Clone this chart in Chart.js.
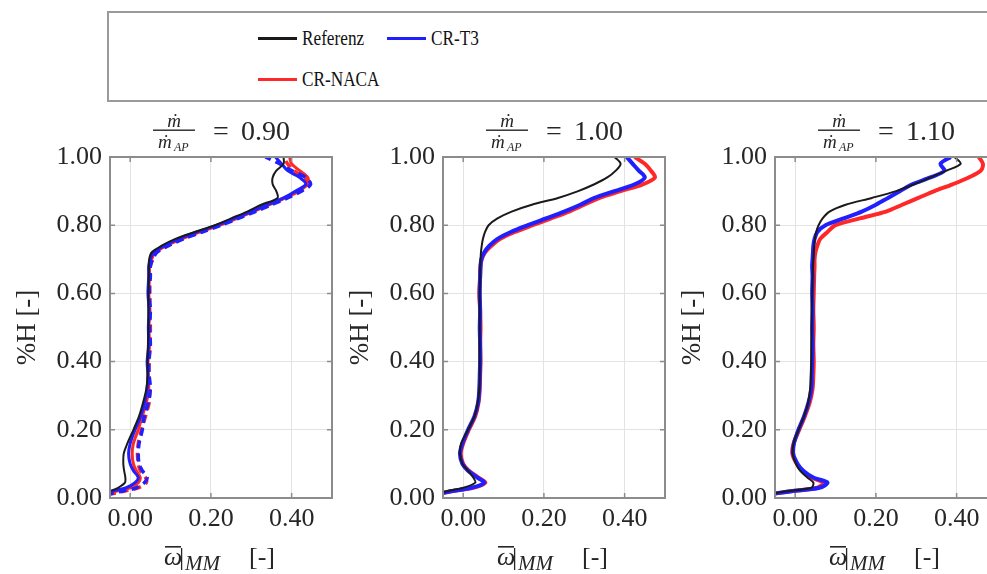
<!DOCTYPE html>
<html>
<head>
<meta charset="utf-8">
<script src="https://cdn.jsdelivr.net/npm/chart.js@4.4.1/dist/chart.umd.min.js"></script>
<style>
  html, body { margin: 0; padding: 0; background: #fff; overflow: hidden; }
  #wrap { position: relative; width: 987px; height: 574px; overflow: hidden; }
  #legend { position: absolute; left: 107px; top: 11px; width: 1000px; height: 87px;
            border: 2px solid #9a9a9a; }
  .item { position: absolute; display: flex; align-items: center; height: 30px; }
  .item .ln { width: 39px; height: 3px; margin-right: 5px; }
  .item .tx { font: 21px "Liberation Serif", "DejaVu Serif", serif; color: #111;
              display: inline-block; transform: scaleX(0.82); transform-origin: left center;
              white-space: nowrap; }
  canvas { position: absolute; top: 110px; }
</style>
</head>
<body>
<div id="wrap">
  <div id="legend"></div>
  <canvas id="c0" width="336" height="464" style="left:0px"></canvas>
  <canvas id="c1" width="336" height="464" style="left:333px"></canvas>
  <canvas id="c2" width="336" height="464" style="left:665px"></canvas>
</div>
<script>
// relative channel height, shared by all profiles
var H = [0.01, 0.02, 0.03, 0.045, 0.06, 0.08, 0.10, 0.13, 0.16, 0.20, 0.24, 0.28, 0.32, 0.36,
         0.40, 0.45, 0.50, 0.55, 0.60, 0.65, 0.68, 0.70, 0.72, 0.74, 0.76, 0.78, 0.80, 0.82,
         0.84, 0.86, 0.88, 0.90, 0.92, 0.94, 0.96, 0.98, 1.00];

var seriesNames = ['Referenz', 'CR-T3', 'CR-NACA'];
var seriesColors = ['#1a1a1a', '#2020ff', '#ff2828'];
var ratios = ['0.90', '1.00', '1.10'];
var xTicks = [0, 0.2, 0.4];
var yTicks = [0, 0.2, 0.4, 0.6, 0.8, 1.0];

// m/m_AP = 0.90
var ref090  = [-0.07, -0.05, -0.03, -0.013, -0.012, -0.015, -0.017, -0.016, -0.007, 0.008, 0.022, 0.032, 0.040, 0.043,
               0.043, 0.044, 0.045, 0.045, 0.045, 0.046, 0.046, 0.047, 0.053, 0.078, 0.112, 0.160, 0.210, 0.250,
               0.290, 0.325, 0.365, 0.362, 0.353, 0.353, 0.362, 0.380, 0.380];
var t3_090  = [-0.07, -0.045, -0.01, 0.012, 0.020, 0.008, 0.000, -0.004, 0.000, 0.012, 0.026, 0.036, 0.042, 0.044,
               0.042, 0.046, 0.045, 0.047, 0.044, 0.046, 0.046, 0.050, 0.058, 0.085, 0.120, 0.165, 0.215, 0.258,
               0.300, 0.340, 0.380, 0.410, 0.435, 0.420, 0.390, 0.375, 0.360];
var t3b_090 = [-0.06, -0.02, 0.015, 0.035, 0.042, 0.030, 0.022, 0.020, 0.022, 0.030, 0.035, 0.045, 0.050, 0.047,
               0.046, 0.050, 0.048, 0.050, 0.047, 0.050, 0.050, 0.056, 0.066, 0.095, 0.132, 0.178, 0.225, 0.268,
               0.310, 0.350, 0.390, 0.425, 0.447, 0.435, 0.400, 0.370, 0.335];
var na_090  = [-0.065, -0.035, 0.000, 0.020, 0.025, 0.015, 0.008, 0.005, 0.008, 0.020, 0.030, 0.040, 0.046, 0.045,
               0.044, 0.048, 0.046, 0.049, 0.046, 0.048, 0.048, 0.053, 0.062, 0.090, 0.128, 0.172, 0.222, 0.265,
               0.305, 0.345, 0.385, 0.418, 0.440, 0.440, 0.420, 0.400, 0.395];
var nab_090 = [-0.055, -0.015, 0.020, 0.040, 0.038, 0.025, 0.020, 0.018, 0.020, 0.028, 0.038, 0.047, 0.048, 0.046,
               0.047, 0.049, 0.050, 0.048, 0.049, 0.047, 0.050, 0.055, 0.064, 0.092, 0.130, 0.175, 0.220, 0.262,
               0.302, 0.342, 0.382, 0.420, 0.440, 0.430, 0.405, 0.390, 0.380];

// m/m_AP = 1.00
var ref100 = [-0.07, -0.04, 0.000, 0.030, 0.025, 0.012, -0.002, -0.008, -0.005, 0.012, 0.028, 0.036, 0.040, 0.041,
              0.041, 0.041, 0.041, 0.041, 0.041, 0.042, 0.042, 0.043, 0.044, 0.046, 0.049, 0.054, 0.063, 0.085,
              0.120, 0.170, 0.235, 0.285, 0.325, 0.357, 0.378, 0.390, 0.375];
var t3_100 = [-0.07, -0.03, 0.020, 0.052, 0.035, 0.012, -0.002, -0.008, -0.002, 0.012, 0.028, 0.037, 0.040, 0.041,
              0.042, 0.042, 0.041, 0.042, 0.041, 0.042, 0.043, 0.045, 0.052, 0.065, 0.085, 0.118, 0.160, 0.205,
              0.250, 0.290, 0.325, 0.375, 0.425, 0.450, 0.435, 0.420, 0.405];
var na_100 = [-0.07, -0.03, 0.025, 0.055, 0.038, 0.014, 0.000, -0.006, 0.000, 0.014, 0.030, 0.038, 0.041, 0.042,
              0.043, 0.042, 0.043, 0.042, 0.040, 0.042, 0.043, 0.046, 0.054, 0.070, 0.092, 0.128, 0.172, 0.218,
              0.262, 0.300, 0.338, 0.390, 0.445, 0.475, 0.465, 0.450, 0.425];

// m/m_AP = 1.10
var ref110 = [-0.07, -0.02, 0.040, 0.045, 0.030, 0.012, 0.002, -0.006, -0.004, 0.008, 0.022, 0.032, 0.037, 0.039,
              0.040, 0.040, 0.041, 0.041, 0.042, 0.043, 0.044, 0.045, 0.046, 0.047, 0.049, 0.052, 0.058, 0.068,
              0.085, 0.125, 0.190, 0.250, 0.295, 0.335, 0.375, 0.410, 0.395];
var t3_110 = [-0.07, -0.01, 0.060, 0.080, 0.045, 0.020, 0.006, -0.005, -0.003, 0.008, 0.022, 0.033, 0.040, 0.041,
              0.042, 0.043, 0.042, 0.043, 0.042, 0.043, 0.042, 0.043, 0.044, 0.045, 0.048, 0.055, 0.075, 0.120,
              0.165, 0.200, 0.230, 0.260, 0.290, 0.335, 0.370, 0.360, 0.385];
var na_110 = [-0.07, -0.01, 0.055, 0.070, 0.040, 0.018, 0.004, -0.007, -0.004, 0.010, 0.024, 0.036, 0.043, 0.045,
              0.046, 0.045, 0.046, 0.045, 0.046, 0.047, 0.048, 0.048, 0.050, 0.055, 0.062, 0.080, 0.100, 0.160,
              0.225, 0.265, 0.305, 0.345, 0.390, 0.430, 0.460, 0.465, 0.455];

var SERIF = '"Liberation Serif", "DejaVu Serif", serif';
var TXT = '#262626';
var AXIS = '#8c8c8c';

// legend
var leg = document.getElementById('legend');
seriesNames.forEach(function (name, i) {
  var d = document.createElement('div');
  d.className = 'item';
  d.style.left = (149 + (i % 2) * 129) + 'px';
  d.style.top = (10 + Math.floor(i / 2) * 41) + 'px';
  d.innerHTML = '<span class="ln" style="background:' + seriesColors[i] + '"></span><span class="tx">' + name + '</span>';
  leg.appendChild(d);
});

function pts(arr) {
  return arr.map(function (v, i) { return { x: v, y: H[i] }; });
}

function line(arr, color, width, dash) {
  return {
    data: pts(arr), showLine: true, borderColor: color, backgroundColor: color,
    borderWidth: width, borderDash: dash || [], pointRadius: 0, tension: 0.3
  };
}

// box round the plot with inward ticks
var frame = {
  id: 'frame',
  afterDraw: function (chart) {
    var a = chart.chartArea, ctx = chart.ctx;
    var sx = chart.scales.x, sy = chart.scales.y;
    ctx.save();
    ctx.strokeStyle = AXIS;
    ctx.lineWidth = 2;
    ctx.strokeRect(a.left, a.top, a.right - a.left, a.bottom - a.top);
    ctx.lineWidth = 1.5;
    ctx.beginPath();
    xTicks.forEach(function (v) {
      var px = sx.getPixelForValue(v);
      ctx.moveTo(px, a.bottom); ctx.lineTo(px, a.bottom - 5);
      ctx.moveTo(px, a.top); ctx.lineTo(px, a.top + 5);
    });
    yTicks.forEach(function (v) {
      var py = sy.getPixelForValue(v);
      ctx.moveTo(a.left, py); ctx.lineTo(a.left + 5, py);
      ctx.moveTo(a.right, py); ctx.lineTo(a.right - 5, py);
    });
    ctx.stroke();
    ctx.restore();
  }
};

// m-dot fraction title and omega x label
var labels = {
  id: 'labels',
  afterDraw: function (chart, args, opts) {
    var a = chart.chartArea, ctx = chart.ctx;
    var cx = (a.left + a.right) / 2;
    ctx.save();
    ctx.fillStyle = TXT;
    ctx.textBaseline = 'alphabetic';
    ctx.textAlign = 'center';
    ctx.font = 'italic 19px ' + SERIF;
    ctx.fillText('ṁ', cx - 47, 17);
    ctx.fillRect(cx - 68, 19.5, 42, 1.4);
    ctx.textAlign = 'left';
    ctx.fillText('ṁ', cx - 63, 38);
    ctx.font = 'italic 12px ' + SERIF;
    ctx.fillText('AP', cx - 47, 41);
    ctx.font = '28px ' + SERIF;
    ctx.fillText('=', cx - 8, 30);
    ctx.fillText(opts.ratio, cx + 20, 30);

    // x label
    ctx.font = 'italic 26px ' + SERIF;
    ctx.fillText('ω', cx - 57, 455);
    ctx.fillRect(cx - 56, 436, 16, 1.6);
    ctx.font = '26px ' + SERIF;
    ctx.fillText('|', cx - 42, 455);
    ctx.font = 'italic 21px ' + SERIF;
    ctx.fillText('MM', cx - 36, 460);
    ctx.font = '26px ' + SERIF;
    ctx.fillText('[-]', cx + 28, 455);
    ctx.restore();
  }
};

var panels = [
  [line(ref090, seriesColors[0], 2), line(t3_090, seriesColors[1], 3), line(t3b_090, seriesColors[1], 3.5, [8, 5]),
   line(na_090, seriesColors[2], 3), line(nab_090, seriesColors[2], 3.5, [8, 5])],
  [line(ref100, seriesColors[0], 2), line(t3_100, seriesColors[1], 4), line(na_100, seriesColors[2], 4)],
  [line(ref110, seriesColors[0], 2), line(t3_110, seriesColors[1], 4), line(na_110, seriesColors[2], 4)]
];

panels.forEach(function (datasets, k) {
  var ctx = document.getElementById('c' + k).getContext('2d');
  new Chart(ctx, {
    type: 'scatter',
    data: { datasets: datasets },
    options: {
      responsive: false,
      animation: false,
      layout: { padding: { top: 47, right: 4, left: 0, bottom: 0 } },
      plugins: {
        legend: { display: false },
        tooltip: { enabled: false },
        labels: { ratio: ratios[k] }
      },
      scales: {
        x: {
          type: 'linear', min: -0.05, max: 0.5,
          afterBuildTicks: function (s) { s.ticks = xTicks.map(function (v) { return { value: v }; }); },
          afterFit: function (s) { s.height = 76; },
          ticks: { font: { family: SERIF, size: 26 }, color: TXT, padding: 6, maxRotation: 0, autoSkip: false,
                   callback: function (v) { return Number(v).toFixed(2); } },
          grid: { color: '#e3e3e3', lineWidth: 1, drawTicks: false },
          border: { display: false }
        },
        y: {
          type: 'linear', min: 0, max: 1,
          afterBuildTicks: function (s) { s.ticks = yTicks.map(function (v) { return { value: v }; }); },
          afterFit: function (s) { s.width = 110; },
          ticks: { font: { family: SERIF, size: 26 }, color: TXT, padding: 8, autoSkip: false,
                   callback: function (v) { return Number(v).toFixed(2); } },
          grid: { color: '#e3e3e3', lineWidth: 1, drawTicks: false },
          border: { display: false },
          title: { display: true, text: '%H [-]', color: TXT, font: { family: SERIF, size: 27 },
                   padding: { top: 12, bottom: 0 } }
        }
      }
    },
    plugins: [frame, labels]
  });
});
</script>
</body>
</html>
